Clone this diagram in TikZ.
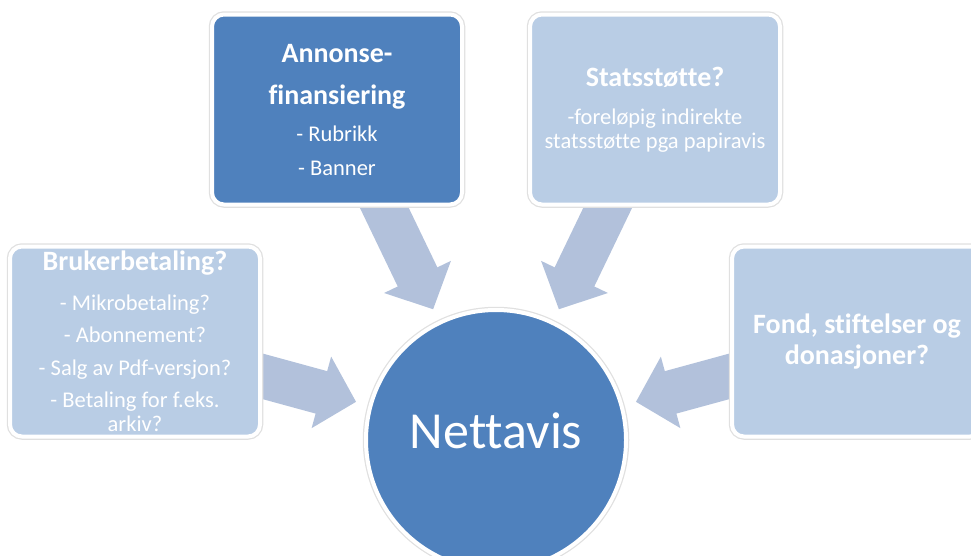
\documentclass[tikz,border=0pt]{standalone}
\usepackage{fontspec}
\setmainfont{Carlito}[Ligatures=NoCommon]
\usetikzlibrary{arrows.meta,backgrounds,positioning}
\definecolor{darkblue}{HTML}{4F81BD}
\definecolor{lightblue}{HTML}{B9CDE5}
\definecolor{arrowblue}{HTML}{B2C1DB}
\newcommand{\boxtitle}[1]{{\fontsize{28}{30}\selectfont\bfseries #1}}

\begin{document}
\begin{tikzpicture}[x=1pt,y=-1pt,align=center,text=white]
\tikzstyle{source}=[rectangle,rounded corners=12pt,minimum width=250pt,minimum height=190pt,draw=white,line width=4pt,preaction={draw=black!12,line width=6.5pt},font=\fontsize{22.5}{24}\selectfont]
\tikzstyle{darksource}=[source,fill=darkblue]
\tikzstyle{lightsource}=[source,fill=lightblue]
\tikzstyle{flow}=[draw=arrowblue,line width=44pt,-{Triangle[length=36pt,width=72pt]},shorten >=13pt]

\useasboundingbox (0,0) rectangle (971,555);

\node[circle,fill=darkblue,draw=white,line width=4pt,preaction={draw=black!12,line width=6.5pt},minimum size=260pt,text depth=19pt,font=\fontsize{52}{60}\selectfont] (nett) at (496,440) {Nettavis};

\node[darksource] (annonse) at (337,109.5) {\boxtitle{Annonse-}\\[18pt]\boxtitle{finansiering}\\[13pt]- Rubrikk\\[10pt]- Banner};
\node[lightsource] (stats) at (655,109.5) {\boxtitle{Statsstøtte?}\\[14pt]-foreløpig indirekte\\statsstøtte pga papiravis};
\node[lightsource] (bruker) at (135,341.5) {\boxtitle{Brukerbetaling?}\\[16pt]- Mikrobetaling?\\[8pt]- Abonnement?\\[9pt]- Salg av Pdf-versjon?\\[8pt]- Betaling for f.eks.\\arkiv?};
\node[lightsource] (fond) at (857,341.5) {\boxtitle{Fond, stiftelser og}\\[5pt]\boxtitle{donasjoner?}};

% block arrows towards the centre
\begin{scope}[on background layer]
\draw[flow] (bruker.center) -- (nett);
\draw[flow] (annonse.center) -- (nett);
\draw[flow] (stats.center) -- (nett);
\draw[flow] (fond.center) -- (nett);
\end{scope}
\end{tikzpicture}
\end{document}
